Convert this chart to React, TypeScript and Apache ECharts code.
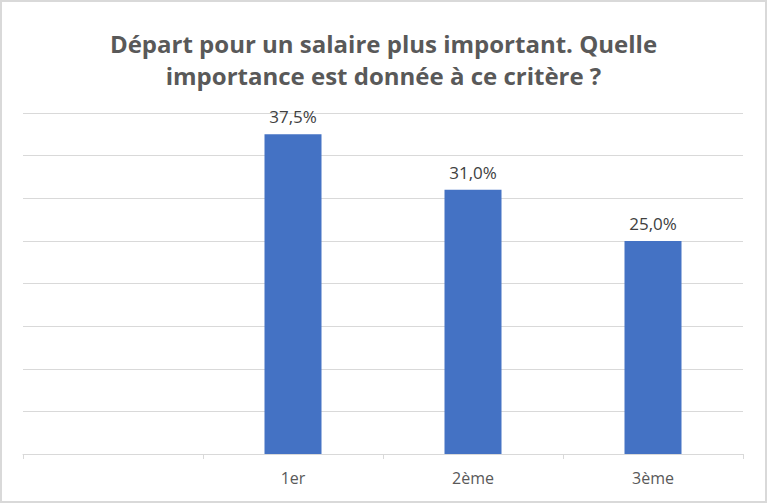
import React, { useEffect, useRef } from "react";
import * as echarts from "echarts";

const categories = ["", "1er", "2ème", "3ème"];
const values: (number | null)[] = [null, 37.5, 31.0, 25.0];
const titleText = "Départ pour un salaire plus important. Quelle\nimportance est donnée à ce critère ?";
const yMin = 0;
const yMax = 40;
const yInterval = 5;

export default function App() {
  const ref = useRef<HTMLDivElement>(null);
  useEffect(() => {
    document.body.style.margin = "0";
    const chart = echarts.init(ref.current!, null, { renderer: "svg" });
    chart.setOption({
      animation: false,
      backgroundColor: "#ffffff",
      title: {
        text: titleText,
        left: "center",
        top: 22,
        textStyle: {
          fontFamily: "Open Sans",
          fontWeight: "bold",
          fontSize: 24,
          color: "#595959",
          lineHeight: 32,
        },
      },
      graphic: [
        {
          type: "rect",
          shape: { x: 1, y: 1, width: 765, height: 501 },
          style: { fill: "none", stroke: "#d9d9d9", lineWidth: 2 },
        },
      ],
      grid: { left: 23, right: 24, top: 113, bottom: 49, containLabel: false },
      xAxis: {
        type: "category",
        data: categories,
        axisLine: { lineStyle: { color: "#d9d9d9", width: 1 } },
        axisTick: { show: true, length: 5, alignWithLabel: false, lineStyle: { color: "#d9d9d9" } },
        axisLabel: { fontFamily: "Open Sans", fontSize: 16, color: "#595959", margin: 16 },
      },
      yAxis: {
        type: "value",
        min: yMin,
        max: yMax,
        interval: yInterval,
        axisLabel: { show: false },
        axisLine: { show: false },
        axisTick: { show: false },
        splitLine: { lineStyle: { color: "#d9d9d9", width: 1 } },
      },
      series: [
        {
          type: "bar",
          data: values,
          barWidth: 57,
          itemStyle: { color: "#4472c4" },
          label: {
            show: true,
            position: "top",
            distance: 9,
            fontFamily: "Open Sans",
            fontSize: 17,
            color: "#404040",
            formatter: (p: any) => (p.value == null ? "" : p.value.toFixed(1).replace(".", ",") + "%"),
          },
        },
      ],
    });
    return () => chart.dispose();
  }, []);
  return <div ref={ref} style={{ width: 767, height: 503, position: "absolute", left: 0, top: 0 }} />;
}
